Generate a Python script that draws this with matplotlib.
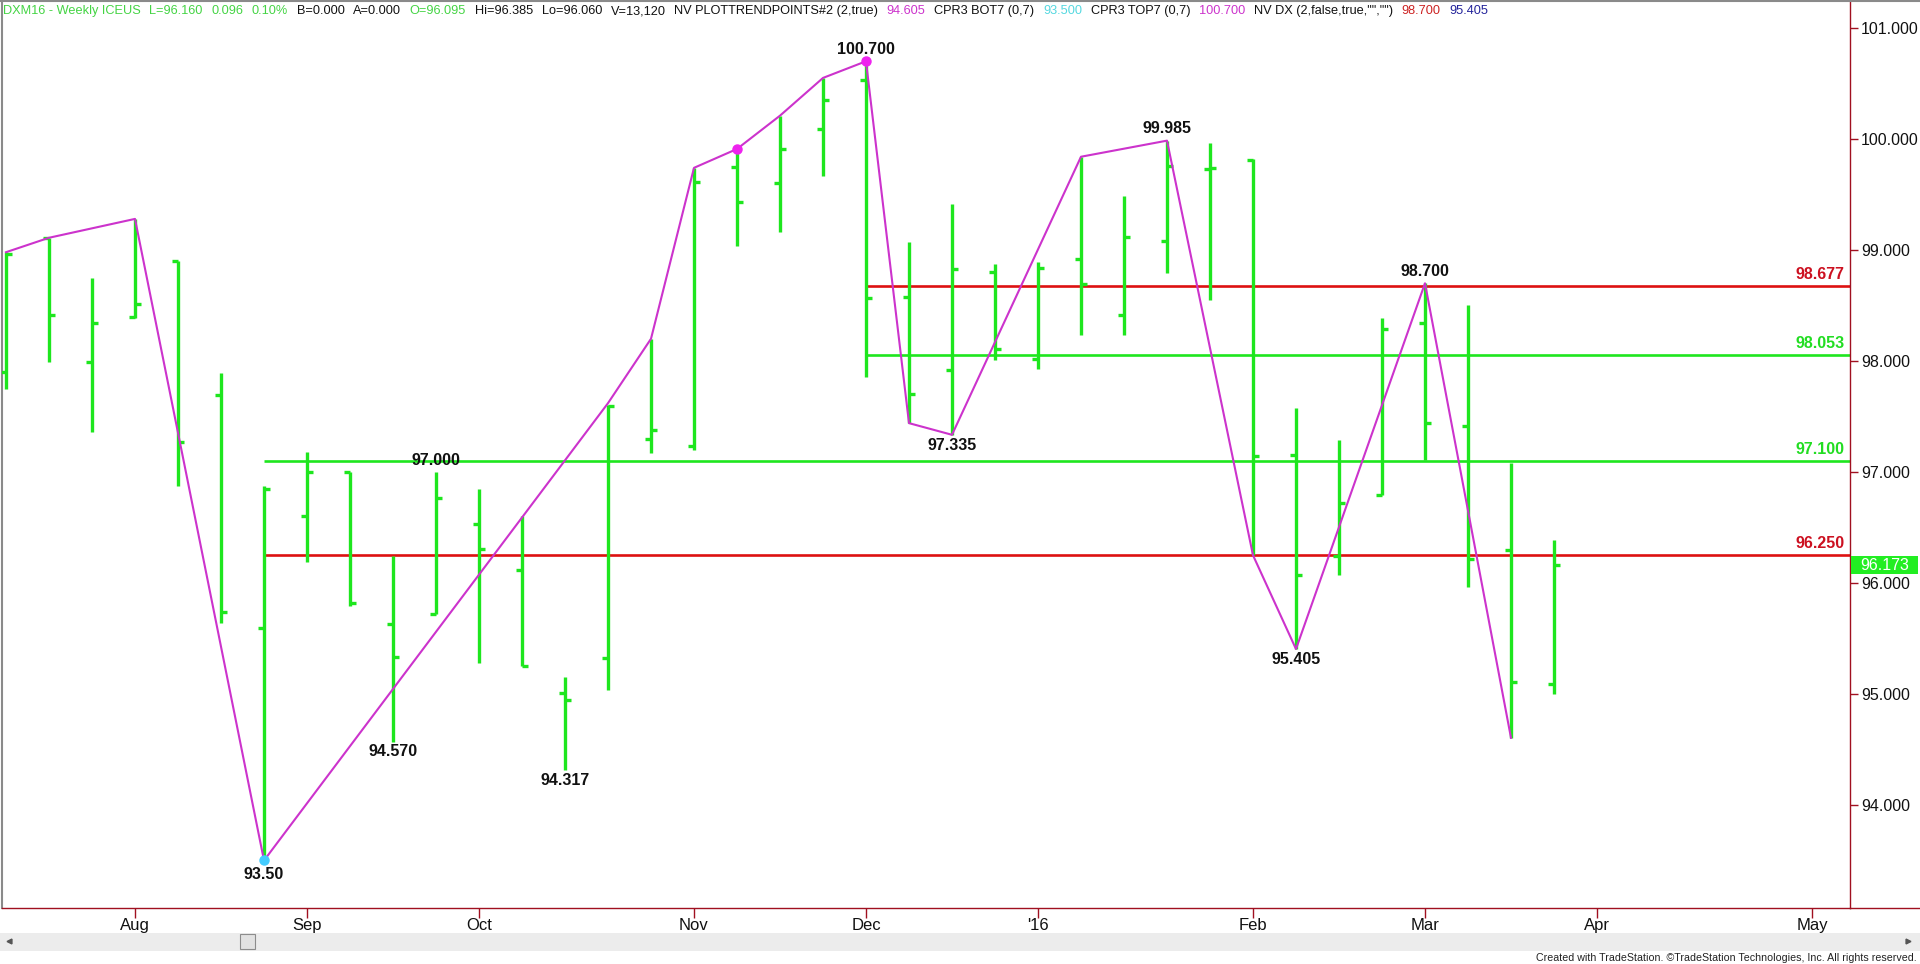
import numpy as np
import pandas as pd
import matplotlib
matplotlib.use("Agg")
import matplotlib.pyplot as plt
from matplotlib.lines import Line2D
from matplotlib.patches import Rectangle
from matplotlib import transforms

plt.rcParams['font.family'] = ['Liberation Sans', 'DejaVu Sans']

# weekly calendar (one slot per week); the first 37 weeks carry bars
weeks = pd.date_range("2015-07-17", periods=43, freq="7D")

opens  = [97.90, 99.11, 97.99, 98.40, 98.90, 97.69, 95.59, 96.60, 97.00, 95.63,
          95.72, 96.53, 96.12, 95.01, 95.32, 97.30, 97.23, 99.75, 99.60, 100.09,
          100.53, 98.58, 97.92, 98.80, 98.02, 98.92, 98.41, 99.08, 99.73, 99.81,
          97.15, 96.24, 96.79, 98.34, 97.41, 96.30, 95.09]
highs  = [98.98, 99.11, 98.75, 99.28, 98.90, 97.89, 96.87, 97.18, 97.00, 96.24,
          97.00, 96.85, 96.60, 95.15, 97.60, 98.20, 99.74, 99.91, 100.21, 100.55,
          100.70, 99.07, 99.41, 98.87, 98.89, 99.84, 99.49, 99.985, 99.96, 99.82,
          97.58, 97.29, 98.39, 98.70, 98.50, 97.08, 96.385]
lows   = [97.75, 97.99, 97.36, 98.39, 96.87, 95.64, 93.50, 96.19, 95.79, 94.57,
          95.72, 95.28, 95.25, 94.317, 95.04, 97.17, 97.20, 99.04, 99.16, 99.67,
          97.86, 97.44, 97.335, 98.01, 97.93, 98.23, 98.23, 98.79, 98.55, 96.25,
          95.405, 96.07, 96.79, 97.11, 95.96, 94.605, 95.00]
closes = [98.96, 98.41, 98.34, 98.51, 97.27, 95.74, 96.85, 97.00, 95.82, 95.33,
          96.77, 96.31, 95.25, 94.95, 97.59, 97.38, 99.61, 99.43, 99.91, 100.35,
          98.57, 97.70, 98.83, 98.11, 98.84, 98.69, 99.12, 99.76, 99.74, 97.14,
          96.07, 96.72, 98.29, 97.44, 96.22, 95.11, 96.16]

# trend points (bar index, price)
zig_idx = [0, 1, 3, 6, 14, 15, 16, 17, 18, 19, 20, 21, 22, 25, 27, 29, 30, 33, 35]
zig_px = [98.98, 99.11, 99.28, 93.50, 97.62, 98.20, 99.74, 99.91, 100.21, 100.55,
          100.70, 97.44, 97.335, 99.84, 99.985, 96.25, 95.405, 98.70, 94.605]

# swing labels
top_idx = [10, 20, 27, 33]
top_txt = ["97.000", "100.700", "99.985", "98.700"]
bot_idx = [6, 9, 13, 22, 30]
bot_txt = ["93.50", "94.570", "94.317", "97.335", "95.405"]
dot_idx = [17, 20]

# horizontal levels
level_vals = [98.677, 98.053, 97.100, 96.250]
level_kind = ["red", "green", "green", "red"]
level_start = [20, 20, 6, 6]

last_price = 96.173
y_ticks = [94, 95, 96, 97, 98, 99, 100, 101]

header = [("DXM16 - Weekly ICEUS", "g"), ("L=96.160", "g"), ("0.096", "g"), ("0.10%", "g"),
          ("B=0.000", "k"), ("A=0.000", "k"), ("O=96.095", "g"), ("Hi=96.385", "k"),
          ("Lo=96.060", "k"), ("V=13,120", "k"), ("NV PLOTTRENDPOINTS#2 (2,true)", "k"),
          ("94.605", "m"), ("CPR3 BOT7 (0,7)", "k"), ("93.500", "c"), ("CPR3 TOP7 (0,7)", "k"),
          ("100.700", "m"), ('NV DX (2,false,true,"","")', "k"), ("98.700", "r"), ("95.405", "b")]

GREEN = '#1ee61e'
RED = '#dd1111'
MAG = '#cc33cc'
AXC = '#a01020'
hdr_col = {"g": '#44d444', "k": '#111111', "m": '#cc33cc', "c": '#55d8e0', "r": '#cc2222', "b": '#22229a'}
lvl_col = {"red": RED, "green": GREEN}
lbl_col = {"red": '#cc1020', "green": '#22dd22'}

W, H = 1920, 964
fig = plt.figure(figsize=(W / 100, H / 100), dpi=100)
ax = fig.add_axes([2 / W, 56 / H, 1848 / W, 906 / H])

x = np.arange(len(opens))
tw = 0.14
ax.vlines(x, lows, highs, color=GREEN, lw=2.4, zorder=3)
ax.hlines(opens, x - tw, x, color=GREEN, lw=2.4, zorder=3)
ax.hlines(closes, x, x + tw, color=GREEN, lw=2.4, zorder=3)

xmin, xmax = -0.093, 42.884
for v, k, s in zip(level_vals, level_kind, level_start):
    ax.hlines(v, s, xmax, color=lvl_col[k], lw=1.9, zorder=2)
    ax.annotate(f"{v:.3f}", xy=(xmax, v), xytext=(-4, 3), textcoords='offset points',
                ha='right', va='bottom', color=lbl_col[k], fontsize=11.5, fontweight='bold')

ax.plot(zig_idx, zig_px, color=MAG, lw=1.5, zorder=4)
ax.plot(dot_idx, [highs[i] for i in dot_idx], 'o', color='#ee22ee', ms=6.5, zorder=5)
ax.plot([bot_idx[0]], [lows[bot_idx[0]]], 'o', color='#44ccff', ms=6.5, zorder=5)

for i, t in zip(top_idx, top_txt):
    ax.annotate(t, xy=(i, highs[i]), xytext=(0, 3), textcoords='offset points',
                ha='center', va='bottom', fontsize=11.5, fontweight='bold', color='#111111')
for i, t in zip(bot_idx, bot_txt):
    off = -5 if i == bot_idx[0] else -2
    ax.annotate(t, xy=(i, lows[i]), xytext=(0, off), textcoords='offset points',
                ha='center', va='top', fontsize=11.5, fontweight='bold', color='#111111')

ax.set_xlim(xmin, xmax)
ax.set_ylim(93.072, 101.234)

# month ticks at the first week of each month
mpos, mlbl = [], []
for i in range(1, len(weeks)):
    if weeks[i].month != weeks[i - 1].month:
        mpos.append(i)
        mlbl.append("'16" if weeks[i].month == 1 else weeks[i].strftime('%b'))
ax.set_xticks(mpos)
ax.set_xticklabels(mlbl)
ax.yaxis.tick_right()
ax.set_yticks(y_ticks)
ax.set_yticklabels([f"{v:.3f}" for v in y_ticks])
ax.tick_params(axis='y', length=6, width=1, color=AXC, labelsize=11.5, pad=2, labelcolor='#111111')
ax.tick_params(axis='x', length=7, width=1, color=AXC, labelsize=12, pad=0, labelcolor='#111111')

ax.spines['top'].set_visible(False)
ax.spines['left'].set_color('#8a8a8a')
ax.spines['left'].set_linewidth(1.5)
ax.spines['right'].set_color(AXC)
ax.spines['bottom'].set_color(AXC)
ax.spines['right'].set_linewidth(1)
ax.spines['bottom'].set_linewidth(1)

# bottom axis line runs on under the price scale, grey frame on top
fig.add_artist(Line2D([1850 / W, 1], [56 / H, 56 / H], color=AXC, lw=1, transform=fig.transFigure))
fig.add_artist(Line2D([0, 1], [1 - 1 / H, 1 - 1 / H], color='#8a8a8a', lw=1.5, transform=fig.transFigure))

# last price tag
bt = transforms.blended_transform_factory(fig.transFigure, ax.transData)
ax.add_patch(Rectangle((1851 / W, last_price - 0.095), 67 / W, 0.165, transform=bt,
                       facecolor='#22ee22', edgecolor='none', clip_on=False, zorder=6))
ax.text(1884.5 / W, last_price - 0.012, f"{last_price:.3f}", transform=bt, color='white',
        fontsize=11.5, ha='center', va='center', zorder=7)

# header line of coloured segments
prev = fig.text(3 / W, 1 - 11 / H, header[0][0], color=hdr_col[header[0][1]],
                fontsize=9.2, va='center', ha='left')
for txt, c in header[1:]:
    prev = ax.annotate(txt, xy=(1, 0.5), xycoords=prev, xytext=(6.2, 0), textcoords='offset points',
                       color=hdr_col[c], fontsize=9.2, va='center', ha='left', annotation_clip=False)

# scroll bar and footer
fig.add_artist(Rectangle((0, 1 - 951 / H), 1, 18 / H, transform=fig.transFigure,
                         facecolor='#ececec', edgecolor='none', zorder=-5))
fig.add_artist(Rectangle((240 / W, 1 - 949 / H), 15 / W, 15 / H, transform=fig.transFigure,
                         facecolor='#e2e2e2', edgecolor='#8c8c8c', lw=0.8, zorder=-4))
fig.add_artist(Line2D([9 / W], [1 - 941 / H], marker='<', ms=3.5, color='#555555', transform=fig.transFigure))
fig.add_artist(Line2D([1908 / W], [1 - 941 / H], marker='>', ms=3.5, color='#555555', transform=fig.transFigure))
fig.text(1917 / W, 1 - 958 / H,
         "Created with TradeStation. \u00a9TradeStation Technologies, Inc. All rights reserved.",
         fontsize=7.7, ha='right', va='center', color='#222222')

fig.savefig("out.png", dpi=100, facecolor='white')
